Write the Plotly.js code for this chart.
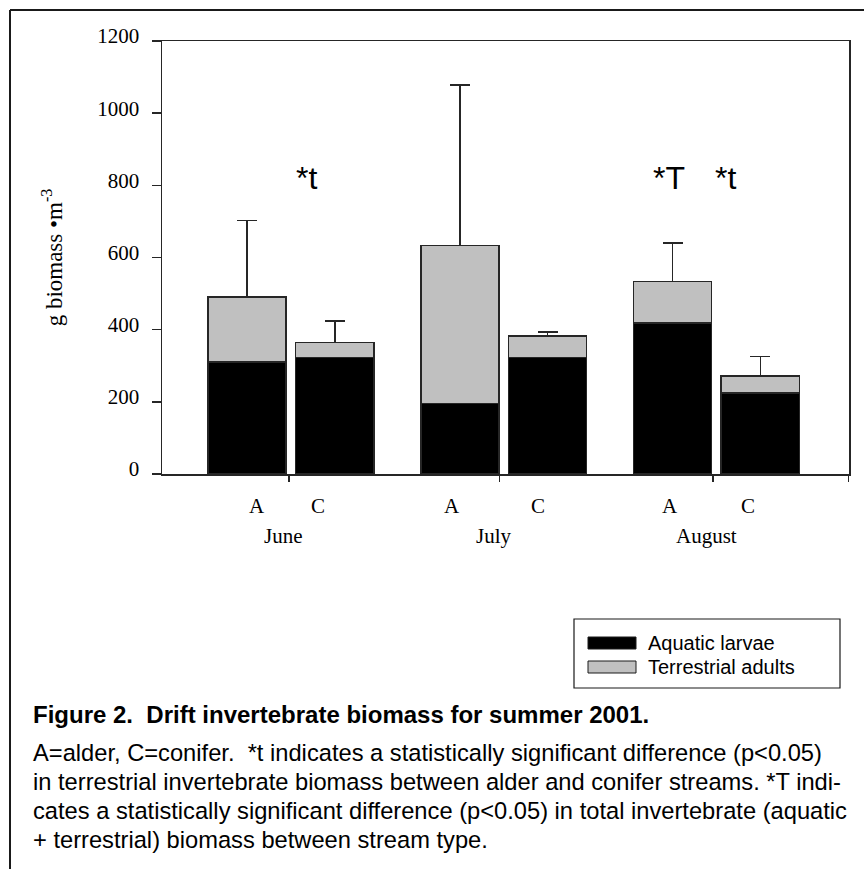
<!DOCTYPE html>
<html><head><meta charset="utf-8">
<script src="https://cdn.plot.ly/plotly-3.0.1.min.js"></script>
<style>html,body{margin:0;padding:0;background:#fff;}</style>
</head><body>
<div id="chart" style="width:864px;height:869px;"></div>
<script>
// ---- data ----
const months = ['June', 'July', 'August'];
const streams = ['A', 'C'];
// order: June A, June C, July A, July C, August A, August C
const aquaticLarvae = [311, 323, 196, 323, 418, 225];
const terrestrialAdults = [179, 41, 437, 59, 116, 47];
const totalSE = [212, 60, 445, 12, 106, 53];
const yTickValues = [0, 200, 400, 600, 800, 1000, 1200];
const sigLabels = ['*t', '*T', '*t'];
const seriesNames = ['Aquatic larvae', 'Terrestrial adults'];
const figTitle = 'Figure 2.  Drift invertebrate biomass for summer 2001.';
const captionLines = [
  'A=alder, C=conifer.  *t indicates a statistically significant difference (p&lt;0.05)',
  'in terrestrial invertebrate biomass between alder and conifer streams. *T indi-',
  'cates a statistically significant difference (p&lt;0.05) in total invertebrate (aquatic',
  '+ terrestrial) biomass between stream type.'
];

// ---- layout helpers ----
const W = 864, H = 869, L = 162, R = 849, T = 41, B = 474;
const px = x => (x - L) / (R - L);
const py = y => (B - y) / (B - T);
const xRange = [-0.606, 2.623];
const barOffset = 0.206, barWidth = 0.367;

const xPos = [];
months.forEach((m, g) => streams.forEach((s, j) => xPos.push(g + (j === 0 ? -barOffset : barOffset))));

const serif = 'Liberation Serif, Times New Roman, serif';
const sans = 'Liberation Sans, Arial, sans-serif';
const edge = '#262626';

const traces = [
  {type: 'bar', name: seriesNames[0], x: xPos, y: aquaticLarvae, width: barWidth,
   marker: {color: '#000000', line: {color: edge, width: 1.5}}, showlegend: false, hoverinfo: 'y'},
  {type: 'bar', name: seriesNames[1], x: xPos, y: terrestrialAdults, width: barWidth,
   marker: {color: '#c0c0c0', line: {color: edge, width: 1.5}}, showlegend: false, hoverinfo: 'y',
   error_y: {type: 'data', symmetric: false, array: totalSE, arrayminus: totalSE.map(() => 0),
             color: edge, thickness: 1.5, width: 10}}
];

const annotations = [];
// category labels
const catLabelX = [[-0.161, 0.127], [0.757, 1.161], [1.782, 2.149]];
const monthLabelX = [-0.035, 0.954, 1.951];
months.forEach((m, g) => {
  streams.forEach((s, j) => annotations.push({text: s, x: catLabelX[g][j], y: py(506), xref: 'x', yref: 'paper',
    showarrow: false, xanchor: 'center', yanchor: 'middle', font: {family: serif, size: 21, color: '#000'}}));
  annotations.push({text: m, x: monthLabelX[g], y: py(536), xref: 'x', yref: 'paper',
    showarrow: false, xanchor: 'center', yanchor: 'middle', font: {family: serif, size: 21, color: '#000'}});
});
// significance marks
const sigX = [0.071, 1.779, 2.043];
sigLabels.forEach((t, i) => annotations.push({text: t, x: sigX[i], y: 820, xref: 'x', yref: 'y',
  showarrow: false, xanchor: 'center', yanchor: 'middle', font: {family: sans, size: 32, color: '#000'}}));
// legend text
const legTextY = [643, 667];
seriesNames.forEach((n, i) => annotations.push({text: n, x: px(646), y: py(legTextY[i]), xref: 'paper', yref: 'paper',
  showarrow: false, xanchor: 'left', yanchor: 'middle', font: {family: sans, size: 20, color: '#000'}}));
// caption
annotations.push({text: '<b>' + figTitle + '</b>', x: px(31), y: py(714), xref: 'paper', yref: 'paper',
  showarrow: false, xanchor: 'left', yanchor: 'middle', font: {family: sans, size: 24, color: '#000'}});
const capY = [753, 782, 811, 840];
captionLines.forEach((t, i) => annotations.push({text: t, x: px(31), y: py(capY[i]), xref: 'paper', yref: 'paper',
  showarrow: false, xanchor: 'left', yanchor: 'middle', font: {family: sans, size: 23.7, color: '#000'}}));

const shapes = [
  // outer frame (left and top)
  {type: 'line', xref: 'paper', yref: 'paper', x0: px(10), x1: px(10), y0: py(10), y1: py(869), line: {color: '#1a1a1a', width: 2}},
  {type: 'line', xref: 'paper', yref: 'paper', x0: px(10), x1: px(864), y0: py(10), y1: py(10), line: {color: '#1a1a1a', width: 2}},
  // legend box
  {type: 'rect', xref: 'paper', yref: 'paper', x0: px(574), x1: px(840), y0: py(619), y1: py(688), line: {color: '#1a1a1a', width: 1.2}, fillcolor: 'rgba(0,0,0,0)'},
  {type: 'rect', xref: 'paper', yref: 'paper', x0: px(588), x1: px(636), y0: py(637), y1: py(649), line: {color: '#1a1a1a', width: 1}, fillcolor: '#000000'},
  {type: 'rect', xref: 'paper', yref: 'paper', x0: px(588), x1: px(636), y0: py(661), y1: py(673), line: {color: '#1a1a1a', width: 1}, fillcolor: '#c0c0c0'}
];

const layout = {
  width: W, height: H,
  margin: {l: L, r: W - R, t: T, b: H - B, pad: 0},
  paper_bgcolor: '#ffffff', plot_bgcolor: '#ffffff',
  barmode: 'stack',
  showlegend: false,
  xaxis: {range: xRange, showline: true, linecolor: edge, linewidth: 1.5, mirror: true,
          tickmode: 'array', tickvals: [-0.01, 0.98, 1.984, 2.62], ticks: 'outside', ticklen: 6, tickwidth: 1.5, tickcolor: edge,
          showticklabels: false, showgrid: false, zeroline: false, fixedrange: true},
  yaxis: {range: [0, 1200], showline: true, linecolor: edge, linewidth: 1.5, mirror: true,
          tickmode: 'array', tickvals: yTickValues, ticks: 'outside', ticklen: 9, tickwidth: 1.5, tickcolor: edge,
          ticklabelstandoff: 8, ticklabelshift: -5,
          tickfont: {family: serif, size: 21, color: '#000'},
          showgrid: false, zeroline: false, fixedrange: true,
          title: {text: 'g biomass •m<sup>-3</sup>', font: {family: serif, size: 23, color: '#000'}, standoff: 28}},
  annotations: annotations,
  shapes: shapes
};

Plotly.newPlot('chart', traces, layout, {displayModeBar: false, staticPlot: true});
</script>
</body></html>
